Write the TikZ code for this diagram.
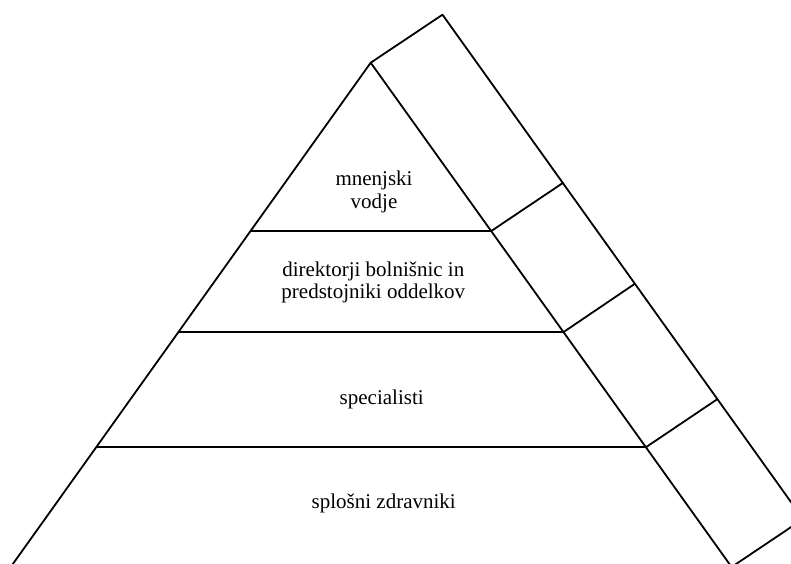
\documentclass[tikz,border=0pt]{standalone}
\usepackage{fontspec}
\setmainfont{Liberation Serif}
\usetikzlibrary{calc}
\begin{document}
\begin{tikzpicture}[x=1pt,y=-1pt,
  edge/.style={line width=1.8pt, line cap=round, line join=round},
  lbl/.style={anchor=base, inner sep=0pt, font=\fontsize{21}{23.5}\selectfont}]
\useasboundingbox (0,0) rectangle (791,563);
\begin{scope}
\clip (0,0) rectangle (791,563);
% pyramid corners
\coordinate (A) at (370.7,62.7);
\coordinate (L1) at (250.7,231);   \coordinate (R1) at (491.3,231);
\coordinate (L2) at (178.5,332.3); \coordinate (R2) at (563.2,332.3);
\coordinate (L3) at (96.5,447.3);  \coordinate (R3) at (645.8,447.3);
\coordinate (L4) at (10.7,567);    \coordinate (R4) at (731.6,567);
% outer side column
\coordinate (O0) at ($(A)+(71.8,-48)$);
\coordinate (O1) at ($(R1)+(71.5,-48)$);
\coordinate (O2) at ($(R2)+(71.3,-48.3)$);
\coordinate (O3) at ($(R3)+(71.3,-48)$);
\coordinate (O4) at ($(R4)+(71.5,-48)$);
\draw[edge] (L4) -- (A) -- (R4);
\draw[edge] (L1) -- (R1);
\draw[edge] (L2) -- (R2);
\draw[edge] (L3) -- (R3);
\draw[edge] (A) -- (O0) -- (O4) -- (R4);
\draw[edge] (R1) -- (O1);
\draw[edge] (R2) -- (O2);
\draw[edge] (R3) -- (O3);
\end{scope}
\node[lbl] (t1a) at (374,185) {mnenjski};
\node[lbl] (t1b) at (374,208.3) {vodje};
\node[lbl] (t2a) at (373.3,276) {direktorji bolnišnic in};
\node[lbl] (t2b) at (373.3,298.5) {predstojniki oddelkov};
\node[lbl] (t3) at (381.7,404.3) {specialisti};
\node[lbl] (t4) at (383.7,508.3) {splošni zdravniki};
\end{tikzpicture}
\end{document}
